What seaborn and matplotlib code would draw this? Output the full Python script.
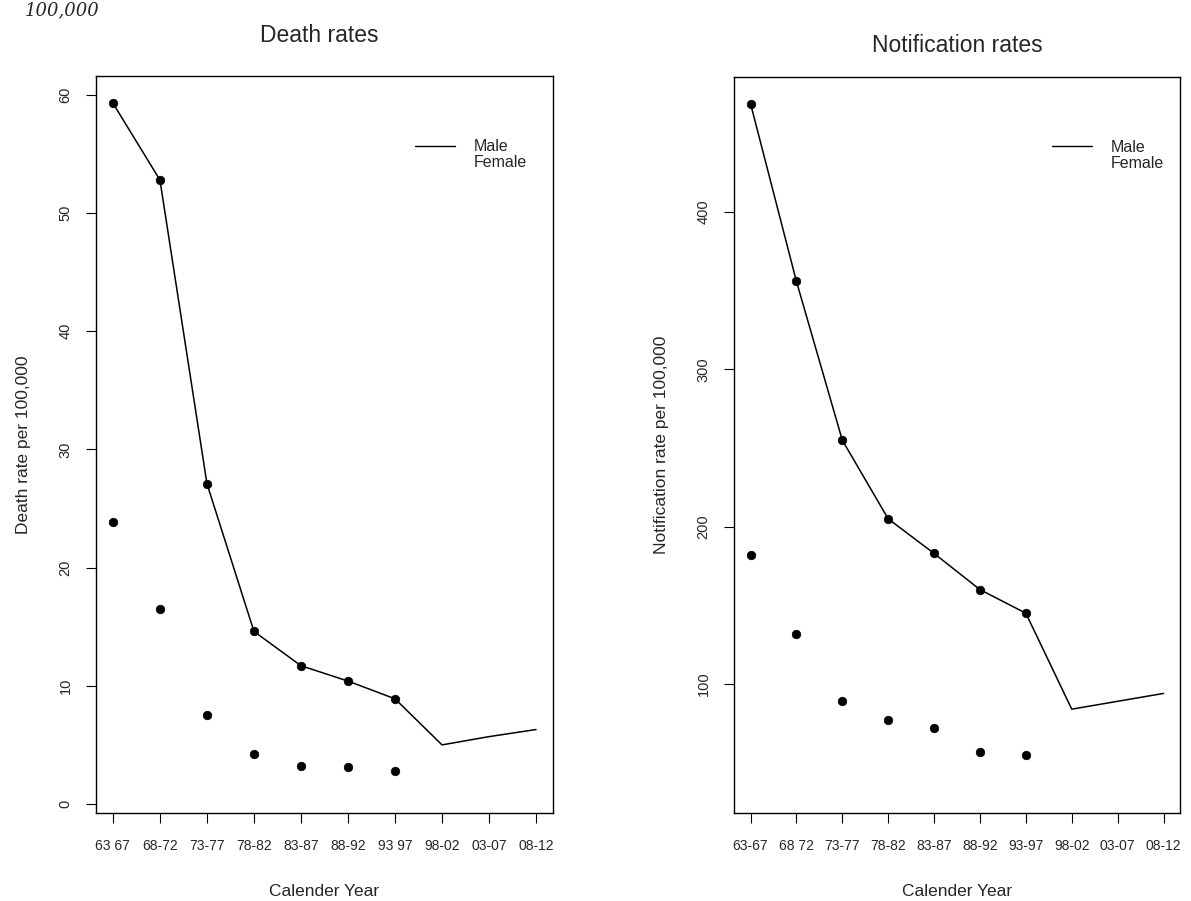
import pandas as pd
import matplotlib.pyplot as plt
import seaborn as sns
from matplotlib.lines import Line2D

# periods on the x axis (labels as printed in the scan)
periods = ["63-67", "68-72", "73-77", "78-82", "83-87", "88-92", "93-97", "98-02", "03-07", "08-12"]
death_ticks = ["63 67", "68-72", "73-77", "78-82", "83-87", "88-92", "93 97", "98-02", "03-07", "08-12"]
notif_ticks = ["63-67", "68 72", "73-77", "78-82", "83-87", "88-92", "93-97", "98-02", "03-07", "08-12"]

# death rates per 100,000
death_male = [59.3, 52.8, 27.1, 14.6, 11.7, 10.4, 8.9, 5.0, 5.7, 6.3]
death_female = [23.9, 16.5, 7.5, 4.2, 3.2, 3.1, 2.8]

# notification rates per 100,000
notif_male = [469, 356, 255, 205, 183, 160, 145, 84, 89, 94]
notif_female = [182, 132, 89, 77, 72, 57, 55]

n_obs = 7  # observed periods (shown with dots)

sns.set_style("ticks")
plt.rcParams["font.family"] = ["Liberation Sans", "DejaVu Sans"]

fig = plt.figure(figsize=(11.91, 9.01), dpi=100)
ax1 = fig.add_axes([0.0806, 0.0977, 0.3837, 0.818])
ax2 = fig.add_axes([0.6163, 0.0977, 0.3745, 0.817])


def draw(ax, male, female, ticks, ylabel, ylim, yticks, legx):
    male_df = pd.DataFrame({"x": range(len(male)), "rate": male})
    fem_df = pd.DataFrame({"x": range(len(female)), "rate": female})
    sns.lineplot(data=male_df, x="x", y="rate", ax=ax, color="black", lw=1.1)
    sns.scatterplot(data=male_df.iloc[:n_obs], x="x", y="rate", ax=ax, color="black",
                    s=38, edgecolor="black", zorder=3)
    sns.scatterplot(data=fem_df, x="x", y="rate", ax=ax, color="black",
                    s=38, edgecolor="black", zorder=3)
    ax.set_xlim(-0.36, 9.36)
    ax.set_ylim(*ylim)
    ax.set_xticks(range(len(ticks)))
    ax.set_xticklabels(ticks, fontsize=10)
    ax.set_yticks(yticks)
    ax.set_yticklabels([str(t) for t in yticks], rotation=90, va="center", fontsize=10.5)
    ax.tick_params(length=7, width=0.8, color="black", pad=12)
    ax.tick_params(axis="y", pad=10)
    for s in ax.spines.values():
        s.set_visible(True)
        s.set_color("black")
        s.set_linewidth(1.0)
    ax.set_xlabel("Calender Year", fontsize=12.5, labelpad=22)
    ax.set_ylabel(ylabel, fontsize=12.5, labelpad=20)
    handles = [Line2D([], [], color="black", lw=1), Line2D([], [], linestyle="none")]
    ax.legend(handles, ["Male", "Female"], loc="upper left", bbox_to_anchor=(legx, 0.925),
              frameon=False, fontsize=11.5, handlelength=2.5, handletextpad=1.2,
              labelspacing=0.05, borderpad=0)


draw(ax1, death_male, death_female, death_ticks, "Death rate per 100,000",
     (-0.76, 61.6), [0, 10, 20, 30, 40, 50, 60], 0.68)
draw(ax2, notif_male, notif_female, notif_ticks, "Notification rate per 100,000",
     (18, 486), [100, 200, 300, 400], 0.695)

fig.text(0.268, 1 - 35 / 901, "Death rates", ha="center", va="center", fontsize=16.5)
fig.text(0.804, 1 - 46 / 901, "Notification rates", ha="center", va="center", fontsize=16.5)
# caption fragment at the very top of the scan
fig.text(0.052, 1 - 1 / 901, "100,000", ha="center", va="top", fontsize=13,
         family="DejaVu Serif", style="italic")

plt.savefig("out.png", dpi=100)
